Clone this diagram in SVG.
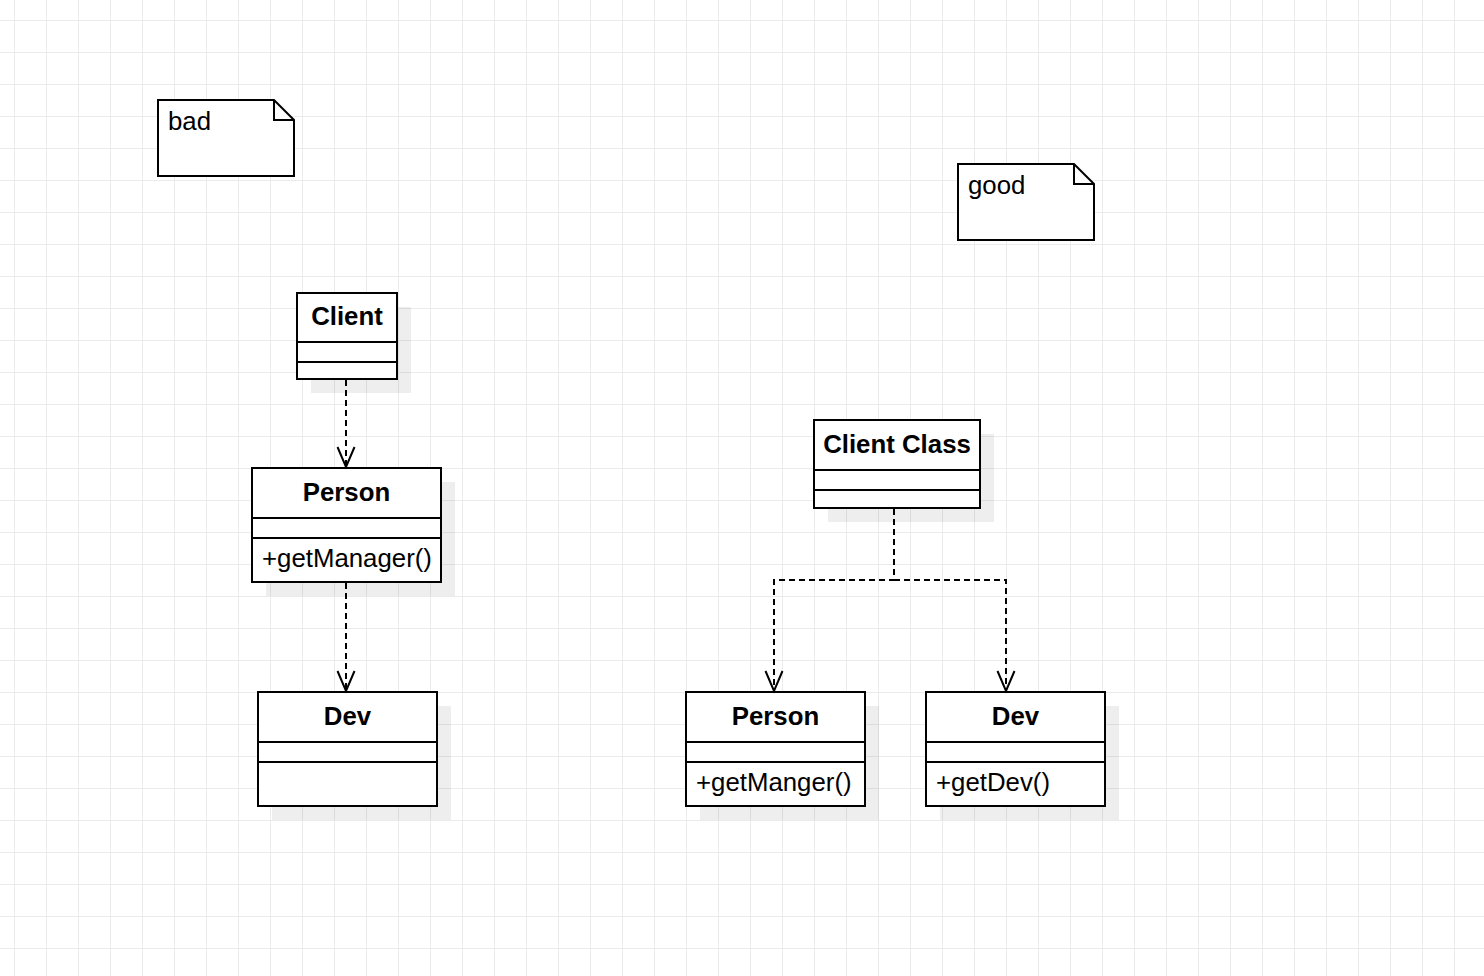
<svg xmlns="http://www.w3.org/2000/svg" width="1484" height="976" viewBox="0 0 1484 976">
<defs>
<pattern id="grid" patternUnits="userSpaceOnUse" x="14" y="20" width="32" height="32">
<path d="M0 0.5H32M0.5 0V32" fill="none" stroke="#ebebeb" stroke-width="1"/>
</pattern>
<marker id="open" markerUnits="userSpaceOnUse" markerWidth="30" markerHeight="24" refX="0" refY="0" viewBox="-22 -12 26 24" orient="auto" overflow="visible">
<path d="M-20 -8.5L0 0L-20 8.5" fill="none" stroke="#000" stroke-width="2" stroke-dasharray="none"/>
</marker>
<style>
.box{fill:#fff;stroke:#000;stroke-width:2}
.sh{fill:#000;fill-opacity:0.065;stroke:none}
.div{stroke:#000;stroke-width:2;fill:none}
.t{font-family:"Liberation Sans",Arial,sans-serif;font-size:25.8px;fill:#000}
.b{font-weight:bold;text-anchor:middle}
.edge{fill:none;stroke:#000;stroke-width:2;stroke-dasharray:6 4;marker-end:url(#open)}
</style>
</defs>
<rect width="1484" height="976" fill="#fff"/>
<rect width="1484" height="976" fill="url(#grid)"/>

<g id="note-bad">
<path class="box" d="M158 100H274L294 120V176H158Z"/>
<path class="div" d="M274 100V120H294"/>
<text class="t" x="168" y="130">bad</text>
</g>

<g id="note-good">
<path class="box" d="M958 164H1074L1094 184V240H958Z"/>
<path class="div" d="M1074 164V184H1094"/>
<text class="t" x="968" y="194">good</text>
</g>

<g id="client">
<rect class="sh" x="311" y="307" width="100" height="86"/>
<rect class="box" x="297" y="293" width="100" height="86"/>
<path class="div" d="M297 342H397M297 362H397"/>
<text class="t b" x="347" y="325">Client</text>
</g>

<g id="person-bad">
<rect class="sh" x="266" y="482" width="189" height="114"/>
<rect class="box" x="252" y="468" width="189" height="114"/>
<path class="div" d="M252 518H441M252 538H441"/>
<text class="t b" x="346.5" y="501">Person</text>
<text class="t" x="262" y="567">+getManager()</text>
</g>

<g id="dev-bad">
<rect class="sh" x="272" y="706" width="179" height="114"/>
<rect class="box" x="258" y="692" width="179" height="114"/>
<path class="div" d="M258 742H437M258 762H437"/>
<text class="t b" x="347.5" y="725">Dev</text>
</g>

<g id="client-class">
<rect class="sh" x="828" y="434" width="166" height="88"/>
<rect class="box" x="814" y="420" width="166" height="88"/>
<path class="div" d="M814 470H980M814 490H980"/>
<text class="t b" x="897" y="453">Client Class</text>
</g>

<g id="person-good">
<rect class="sh" x="700" y="706" width="179" height="114"/>
<rect class="box" x="686" y="692" width="179" height="114"/>
<path class="div" d="M686 742H865M686 762H865"/>
<text class="t b" x="775.5" y="725">Person</text>
<text class="t" x="696" y="791">+getManger()</text>
</g>

<g id="dev-good">
<rect class="sh" x="940" y="706" width="179" height="114"/>
<rect class="box" x="926" y="692" width="179" height="114"/>
<path class="div" d="M926 742H1105M926 762H1105"/>
<text class="t b" x="1015.5" y="725">Dev</text>
<text class="t" x="936" y="791">+getDev()</text>
</g>

<g id="connectors">
<path class="edge" d="M346 380V467"/>
<path class="edge" d="M346 583V691"/>
<path class="edge" d="M894 509V580H774V691"/>
<path class="edge" d="M894 580H1006V691"/>
</g>
</svg>
